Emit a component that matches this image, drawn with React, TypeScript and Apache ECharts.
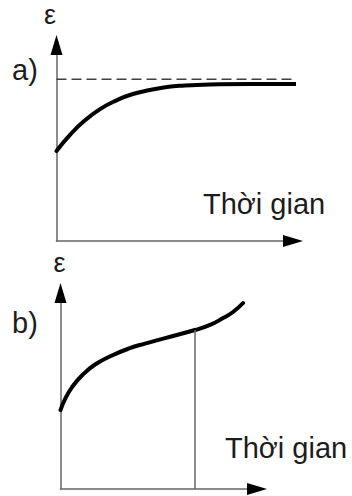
import React, { useEffect, useRef } from "react";
import * as echarts from "echarts";

// Panel a: strain levels off towards a limit (dashed)
const curveATime = [0, 5.7, 11.2, 18.4, 25.6, 32.3, 39.5, 46.7, 54.3, 64.9, 81.8, 105];
const curveAStrain = [45.9, 54.1, 60.7, 67.3, 71.9, 75, 77, 78.6, 79.3, 79.8, 80.1, 80.1];
const limitA = 82.5;
const limitAEnd = 102;

// Panel b: strain keeps growing, speeding up after the marked time
const curveBTime = [0, 2.3, 5.9, 10.9, 17.6, 26.2, 34.9, 43, 53.2, 68.4, 76.1, 82.7, 87.8, 92.9];
const curveBStrain = [40.3, 45.9, 52, 57.9, 63.5, 68.1, 71.7, 74.2, 77, 81.1, 83.7, 87.2, 90.3, 94.9];
const markTimeB = 68.4;
const markStrainB = 81.1;

const panelLabels = ["a)", "b)"];
const yAxisName = "ε";
const xAxisName = "Thời gian";

const FONT = "'Liberation Sans', Arial, sans-serif";

function pairs(xs: number[], ys: number[]) {
  return xs.map((x, i) => [x, ys[i]]);
}

function axisPair(kind: "x" | "y", gridIndex: number) {
  const base = {
    type: "value",
    gridIndex,
    min: 0,
    max: 100,
    position: kind === "x" ? "bottom" : "left",
    axisTick: { show: false },
    axisLabel: { show: false },
    splitLine: { show: false },
  };
  return [
    {
      ...base,
      axisLine: { show: true, onZero: false, lineStyle: { color: "#666", width: 1.5 } },
    },
    {
      ...base,
      axisLine: {
        show: true,
        onZero: false,
        symbol: ["none", "triangle"],
        symbolSize: [12, 20],
        lineStyle: { color: "#000", width: 0 },
      },
    },
  ];
}

const curveStyle = { color: "#000", width: 4, cap: "round" };

export default function App() {
  const ref = useRef<HTMLDivElement>(null);

  useEffect(() => {
    if (!ref.current) return;
    const chart = echarts.init(ref.current, undefined, { renderer: "svg" });

    const textStyle = (text: string, size: number, align: string) => ({
      text,
      font: `${size}px ${FONT}`,
      fill: "#1c1c1c",
      align,
      verticalAlign: "middle",
    });

    chart.setOption({
      animation: false,
      backgroundColor: "#fff",
      grid: [
        { left: 56.5, right: 59, top: 45, bottom: 255 },
        { left: 60.5, right: 95, top: 293, bottom: 7 },
      ],
      xAxis: [...axisPair("x", 0), ...axisPair("x", 1)],
      yAxis: [...axisPair("y", 0), ...axisPair("y", 1)],
      series: [
        {
          // limit line of panel a
          type: "line",
          xAxisIndex: 0,
          yAxisIndex: 0,
          data: [
            [0, limitA],
            [limitAEnd, limitA],
          ],
          showSymbol: false,
          clip: false,
          silent: true,
          lineStyle: { color: "#404040", width: 1.5, type: [10, 5] },
        },
        {
          type: "line",
          xAxisIndex: 0,
          yAxisIndex: 0,
          data: pairs(curveATime, curveAStrain),
          smooth: 0.5,
          showSymbol: false,
          clip: false,
          silent: true,
          lineStyle: curveStyle,
        },
        {
          type: "line",
          xAxisIndex: 2,
          yAxisIndex: 2,
          data: pairs(curveBTime, curveBStrain),
          smooth: 0.5,
          showSymbol: false,
          clip: false,
          silent: true,
          lineStyle: curveStyle,
          markLine: {
            silent: true,
            symbol: ["none", "none"],
            label: { show: false },
            lineStyle: { color: "#666", width: 1.5, type: "solid" },
            data: [[{ coord: [markTimeB, 0] }, { coord: [markTimeB, markStrainB] }]],
          },
        },
      ],
      graphic: [
        { type: "text", x: 50, y: 15, z: 100, style: textStyle(yAxisName, 27, "center") },
        { type: "text", x: 59.5, y: 263, z: 100, style: textStyle(yAxisName, 27, "center") },
        { type: "text", x: 12, y: 70, z: 100, style: textStyle(panelLabels[0], 29, "left") },
        { type: "text", x: 12, y: 323, z: 100, style: textStyle(panelLabels[1], 29, "left") },
        { type: "text", x: 203, y: 204, z: 100, style: textStyle(xAxisName, 29, "left") },
        { type: "text", x: 225, y: 448, z: 100, style: textStyle(xAxisName, 29, "left") },
      ],
    });

    return () => chart.dispose();
  }, []);

  return (
    <div
      ref={ref}
      style={{ position: "absolute", left: 0, top: 0, width: 352, height: 496 }}
    />
  );
}
